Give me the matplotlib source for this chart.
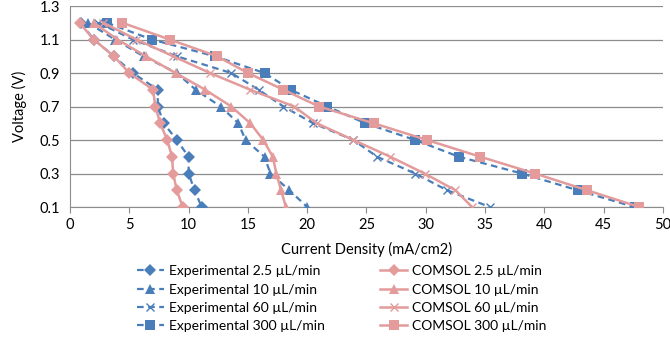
import matplotlib
matplotlib.use("Agg")
import matplotlib.pyplot as plt

plt.rcParams['font.family'] = ['Lato', 'DejaVu Sans']

# Voltage levels (V)
volts = [1.2, 1.1, 1.0, 0.9, 0.8, 0.7, 0.6, 0.5, 0.4, 0.3, 0.2, 0.1]

# Current density (mA/cm2)
exp_2_5 = [0.9, 2.0, 3.7, 5.3, 7.4, 7.4, 7.9, 9.0, 10.0, 10.0, 10.5, 11.1]
com_2_5 = [0.8, 2.0, 3.7, 5.0, 7.0, 7.2, 7.6, 8.2, 8.6, 8.7, 9.0, 9.5]
exp_10 = [1.5, 3.8, 6.2, 9.0, 10.6, 12.7, 14.2, 14.8, 16.4, 16.9, 18.5, 20.0]
com_10 = [2.0, 4.0, 6.4, 8.9, 11.4, 13.6, 15.2, 16.3, 17.1, 17.4, 17.8, 18.2]
exp_60 = [2.4, 5.3, 9.0, 13.6, 15.9, 18.0, 20.5, 23.9, 25.9, 29.1, 31.8, 35.4]
com_60 = [2.8, 5.6, 8.7, 11.8, 15.2, 18.9, 20.8, 23.9, 27.0, 29.9, 32.5, 33.9]
exp_300 = [3.1, 6.9, 12.2, 16.4, 18.6, 21.7, 24.9, 29.1, 32.8, 38.1, 42.8, 47.6]
com_300 = [4.4, 8.4, 12.4, 15.0, 18.0, 21.0, 25.6, 30.1, 34.6, 39.2, 43.6, 48.0]

blue = '#4A7EBB'
pink = '#E39B9B'

fig = plt.figure(figsize=(6.7, 3.43), dpi=100)
ax = fig.add_axes([0.1045, 0.3965, 0.885, 0.586])

exp_series = [(exp_2_5, 'D', 6, 'Experimental 2.5 µL/min'),
              (exp_10, '^', 7, 'Experimental 10 µL/min'),
              (exp_60, 'x', 6, 'Experimental 60 µL/min'),
              (exp_300, 's', 7, 'Experimental 300 µL/min')]
com_series = [(com_2_5, 'D', 6, 'COMSOL 2.5 µL/min'),
              (com_10, '^', 7, 'COMSOL 10 µL/min'),
              (com_60, 'x', 6, 'COMSOL 60 µL/min'),
              (com_300, 's', 7, 'COMSOL 300 µL/min')]

handles = []
for xs, m, ms, lab in exp_series:
    h, = ax.plot(xs, volts, color=blue, linestyle=(0, (3, 2)), linewidth=1.6,
                 marker=m, markersize=ms, markeredgewidth=1.0 if m == 'x' else 0,
                 label=lab, zorder=3)
    handles.append(h)
for xs, m, ms, lab in com_series:
    h, = ax.plot(xs, volts, color=pink, linestyle='-', linewidth=1.8,
                 marker=m, markersize=ms, markeredgewidth=1.0 if m == 'x' else 0,
                 label=lab, zorder=3)
    handles.append(h)

ax.set_xlim(0, 50)
ax.set_ylim(0.1, 1.3)
ax.set_xticks(range(0, 51, 5))
ax.set_yticks([0.1, 0.3, 0.5, 0.7, 0.9, 1.1, 1.3])
ax.set_yticklabels(['0.1', '0.3', '0.5', '0.7', '0.9', '1.1', '1.3'])
ax.grid(True, axis='y', color='#8C8C8C', linewidth=0.9)
ax.set_axisbelow(True)
for s in ['top', 'right']:
    ax.spines[s].set_visible(False)
ax.spines['left'].set_color('#8C8C8C')
ax.spines['bottom'].set_color('#8C8C8C')
ax.tick_params(axis='x', direction='out', length=4, color='#8C8C8C', labelsize=10.5, pad=4)
ax.tick_params(axis='y', length=0, labelsize=10.5, pad=7)

ax.set_xlabel('Current Density (mA/cm2)', fontsize=10.5, labelpad=7)
ax.set_ylabel('Voltage (V)', fontsize=10.5, labelpad=9)

fig.legend(handles=handles, loc='upper center', bbox_to_anchor=(0.51, 0.255), ncol=2,
           frameon=False, fontsize=10, handlelength=1.95, columnspacing=4.0,
           labelspacing=0.45, handletextpad=0.35, borderpad=0.2)

fig.savefig('out.png', dpi=100)
